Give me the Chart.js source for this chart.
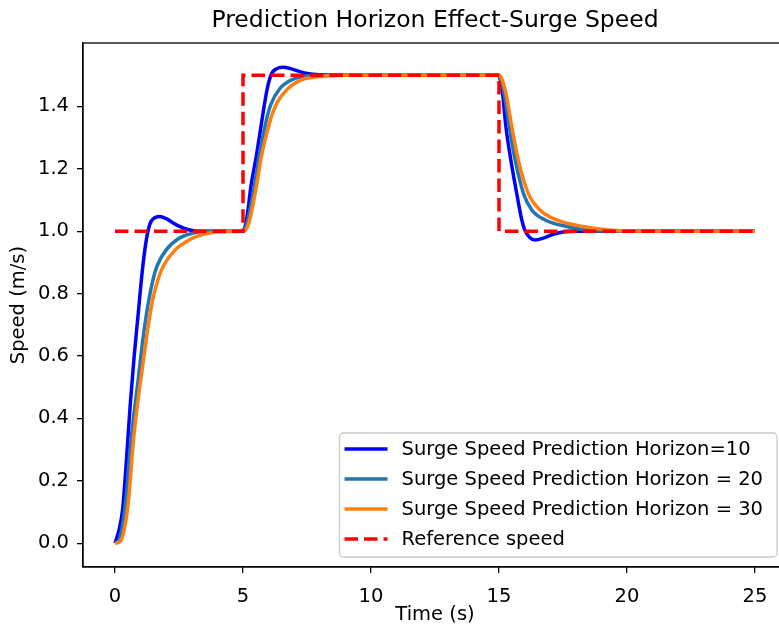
<!DOCTYPE html>
<html>
<head>
<meta charset="utf-8">
<script src="https://cdn.jsdelivr.net/npm/chart.js@4.4.0/dist/chart.umd.min.js"></script>
<style>
  html, body { margin: 0; padding: 0; background: #fff; overflow: hidden; }
  canvas { display: block; }
</style>
</head>
<body>
<canvas id="wykres" width="800" height="635"></canvas>
<script>
// czas (s) i predkosc (m/s)
const t10 = [0, 0.15, 0.3, 0.45, 0.6, 0.75, 0.9, 1.05, 1.2, 1.35, 1.5, 1.75, 2.0, 2.4, 2.8, 3.2, 4.0, 5.0,
  5.1, 5.2, 5.3, 5.53, 5.73, 5.95, 6.12, 6.3, 6.55, 6.85, 7.16, 7.5, 8.0, 9.0, 15.0,
  15.05, 15.14, 15.27, 15.46, 15.69, 15.89, 16.0, 16.2, 16.41, 16.7, 17.12, 17.5, 18.0, 25];
const v10 = [0, 0.04, 0.11, 0.27, 0.45, 0.6, 0.73, 0.86, 0.96, 1.02, 1.04, 1.047, 1.04, 1.02, 1.006, 1.0, 1.0, 1.0,
  1.02, 1.07, 1.138, 1.245, 1.351, 1.458, 1.505, 1.52, 1.525, 1.521, 1.513, 1.505, 1.501, 1.5, 1.5,
  1.485, 1.442, 1.335, 1.229, 1.122, 1.036, 1.005, 0.98, 0.972, 0.977, 0.99, 0.997, 1.0, 1.0];

const t20 = [0, 0.15, 0.3, 0.45, 0.6, 0.75, 0.9, 1.1, 1.3, 1.5, 1.65, 2.0, 2.5, 3.0, 3.5, 5.0,
  5.1, 5.25, 5.43, 5.64, 5.9, 6.08, 6.45, 6.9, 7.6, 8.5, 15.0,
  15.08, 15.2, 15.4, 15.63, 15.95, 16.28, 16.8, 17.64, 18.5, 19.5, 25];
const v20 = [0, 0.01, 0.06, 0.16, 0.31, 0.42, 0.52, 0.66, 0.77, 0.85, 0.89, 0.94, 0.977, 0.993, 0.999, 1.0,
  1.01, 1.06, 1.138, 1.245, 1.351, 1.405, 1.458, 1.485, 1.498, 1.5, 1.5,
  1.485, 1.442, 1.335, 1.229, 1.122, 1.068, 1.036, 1.015, 1.003, 1.0, 1.0];

const t30 = [0, 0.2, 0.35, 0.52, 0.72, 0.9, 1.05, 1.25, 1.47, 1.7, 1.9, 2.35, 2.8, 3.2, 3.9, 4.5, 5.0,
  5.15, 5.3, 5.51, 5.73, 6.05, 6.29, 6.77, 7.29, 8.27, 9.2, 15.0,
  15.1, 15.27, 15.5, 15.75, 16.14, 16.6, 17.25, 18.29, 19.3, 20.5, 25];
const v30 = [0, 0.005, 0.04, 0.13, 0.33, 0.46, 0.55, 0.67, 0.78, 0.85, 0.89, 0.94, 0.967, 0.983, 0.997, 1.0, 1.0,
  1.01, 1.05, 1.138, 1.245, 1.351, 1.405, 1.458, 1.485, 1.497, 1.5, 1.5,
  1.49, 1.442, 1.335, 1.229, 1.122, 1.068, 1.036, 1.015, 1.004, 1.0, 1.0];

const tRef = [0, 5, 5, 15, 15, 25];
const vRef = [1, 1, 1.5, 1.5, 1, 1];

const xTicks = [0, 5, 10, 15, 20, 25];
const yTicks = [0, 0.2, 0.4, 0.6, 0.8, 1.0, 1.2, 1.4];

const FONT = 'DejaVu Sans';
const FS = 19.5;
Chart.defaults.font.family = FONT;
Chart.defaults.font.size = FS;
Chart.defaults.color = '#000';

function pts(t, v) {
  return t.map((x, i) => ({ x: x, y: v[i] }));
}

// gorna i prawa krawedz jak w matplotlib
const ramka = {
  id: 'ramka',
  afterDatasetsDraw(chart) {
    const { ctx, chartArea: a } = chart;
    ctx.save();
    ctx.strokeStyle = '#000';
    ctx.lineWidth = 1.3;
    ctx.strokeRect(a.left, a.top, a.right - a.left, a.bottom - a.top);
    ctx.restore();
  }
};

const tytul = {
  id: 'tytul',
  afterDraw(chart) {
    const { ctx, chartArea: a } = chart;
    ctx.save();
    ctx.font = '23.5px ' + FONT;
    ctx.fillStyle = '#000';
    ctx.textAlign = 'center';
    ctx.textBaseline = 'middle';
    ctx.fillText('Prediction Horizon Effect-Surge Speed', (a.left + a.right) / 2, 21);
    ctx.restore();
  }
};

// legenda w prawym dolnym rogu
const legenda = {
  id: 'legenda',
  afterDraw(chart) {
    const { ctx, chartArea: a } = chart;
    const ds = chart.data.datasets;
    ctx.save();
    ctx.font = FS + 'px ' + FONT;
    const textW = Math.max(...ds.map(d => ctx.measureText(d.label).width));
    const handle = 43, rowH = 30;
    const w = 5 + handle + 14 + textW + 14;
    const h = 124;
    const x0 = a.right - 10 - w, y0 = a.bottom - 10 - h;
    ctx.beginPath();
    ctx.roundRect(x0, y0, w, h, 4);
    ctx.fillStyle = 'rgba(255,255,255,0.8)';
    ctx.fill();
    ctx.strokeStyle = '#cccccc';
    ctx.lineWidth = 1.3;
    ctx.stroke();
    ds.forEach((d, i) => {
      const y = y0 + 16 + i * rowH;
      ctx.beginPath();
      ctx.setLineDash(d.borderDash || []);
      ctx.strokeStyle = d.borderColor;
      ctx.lineWidth = d.borderWidth;
      ctx.moveTo(x0 + 5, y);
      ctx.lineTo(x0 + 5 + handle, y);
      ctx.stroke();
      ctx.setLineDash([]);
      ctx.fillStyle = '#000';
      ctx.textAlign = 'left';
      ctx.textBaseline = 'middle';
      ctx.fillText(d.label, x0 + 5 + handle + 14, y + 1);
    });
    ctx.restore();
  }
};

const osGrid = { drawOnChartArea: false, drawTicks: true, tickLength: 6, tickColor: '#000', lineWidth: 1.3 };
const osBorder = { display: true, color: '#000', width: 1.3 };

new Chart(document.getElementById('wykres').getContext('2d'), {
  type: 'line',
  data: {
    datasets: [
      {
        label: 'Surge Speed Prediction Horizon=10',
        data: pts(t10, v10),
        borderColor: '#0000ff',
        borderWidth: 3.5,
        cubicInterpolationMode: 'monotone',
        pointRadius: 0,
        order: 4
      },
      {
        label: 'Surge Speed Prediction Horizon = 20',
        data: pts(t20, v20),
        borderColor: '#1f77b4',
        borderWidth: 3.5,
        cubicInterpolationMode: 'monotone',
        pointRadius: 0,
        order: 3
      },
      {
        label: 'Surge Speed Prediction Horizon = 30',
        data: pts(t30, v30),
        borderColor: '#ff7f0e',
        borderWidth: 3.5,
        cubicInterpolationMode: 'monotone',
        pointRadius: 0,
        order: 2
      },
      {
        label: 'Reference speed',
        data: pts(tRef, vRef),
        borderColor: '#ff0000',
        borderWidth: 3.5,
        borderDash: [13.5, 6],
        tension: 0,
        pointRadius: 0,
        order: 1
      }
    ]
  },
  options: {
    responsive: false,
    animation: false,
    layout: { padding: { top: 43, right: 13, bottom: 0, left: 0 } },
    plugins: {
      legend: { display: false },
      tooltip: { enabled: false }
    },
    scales: {
      x: {
        type: 'linear',
        min: -1.25,
        max: 26.25,
        afterBuildTicks: s => { s.ticks = xTicks.map(v => ({ value: v })); },
        afterFit: s => { s.height = 68; },
        ticks: { padding: 12, maxRotation: 0, autoSkip: false, callback: v => String(v) },
        grid: osGrid,
        border: osBorder,
        title: { display: true, text: 'Time (s)', padding: { top: 0, bottom: 8 } }
      },
      y: {
        type: 'linear',
        min: -0.0763,
        max: 1.603,
        afterBuildTicks: s => { s.ticks = yTicks.map(v => ({ value: v })); },
        afterFit: s => { s.width = 83; },
        ticks: { padding: 8, autoSkip: false, callback: v => v.toFixed(1) },
        grid: osGrid,
        border: osBorder,
        title: { display: true, text: 'Speed (m/s)', padding: { top: 7, bottom: 0 } }
      }
    }
  },
  plugins: [ramka, tytul, legenda]
});
</script>
</body>
</html>
